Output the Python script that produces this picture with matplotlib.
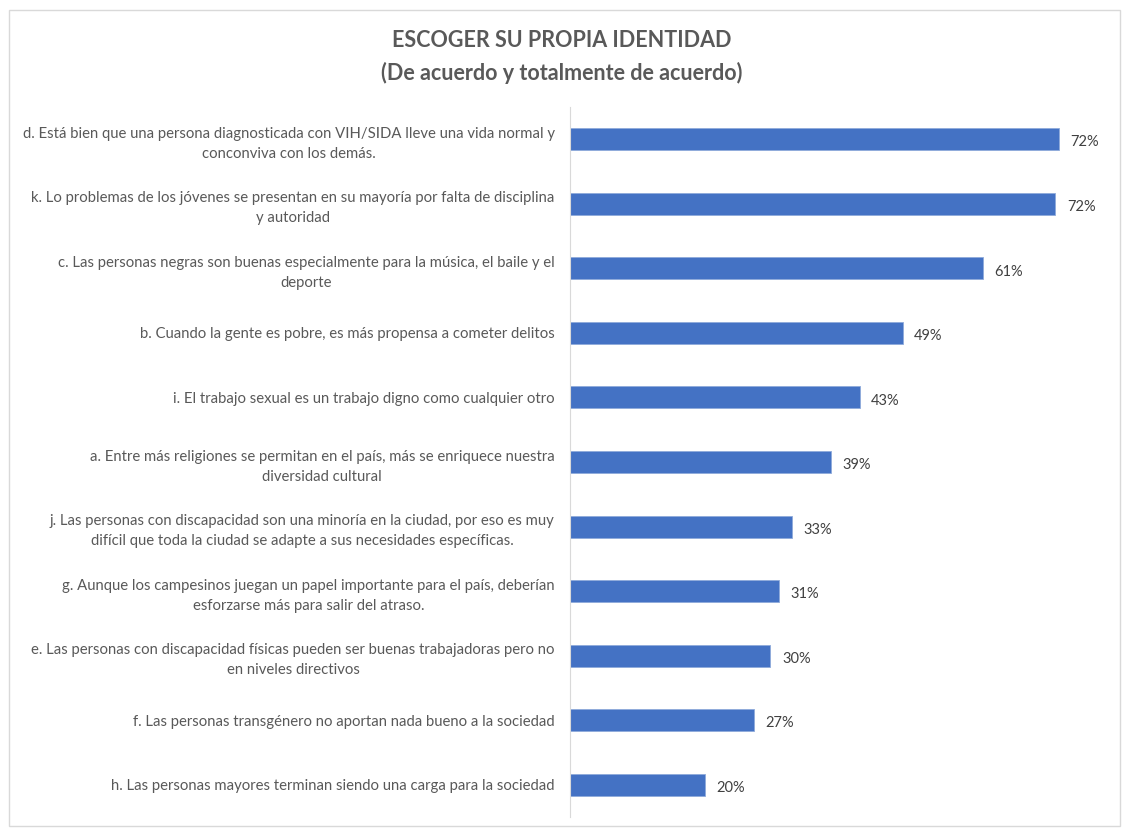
import matplotlib.pyplot as plt
from matplotlib.patches import Rectangle

labels = [
    "d. Está bien que una persona diagnosticada con VIH/SIDA lleve una vida normal y\nconconviva con los demás.",
    "k. Lo problemas de los jóvenes se presentan en su mayoría por falta de disciplina\ny autoridad",
    "c. Las personas negras son buenas especialmente para la música, el baile y el\ndeporte",
    "b. Cuando la gente es pobre, es más propensa a cometer delitos",
    "i. El trabajo sexual es un trabajo digno como cualquier otro",
    "a. Entre más religiones se permitan en el país, más se enriquece nuestra\ndiversidad cultural",
    "j. Las personas con discapacidad son una minoría en la ciudad, por eso es muy\ndifícil que toda la ciudad se adapte a sus necesidades específicas.",
    "g. Aunque los campesinos juegan un papel importante para el país, deberían\nesforzarse más para salir del atraso.",
    "e. Las personas con discapacidad físicas pueden ser buenas trabajadoras pero no\nen niveles directivos",
    "f. Las personas transgénero no aportan nada bueno a la sociedad",
    "h. Las personas mayores terminan siendo una carga para la sociedad",
]
values = [0.724, 0.719, 0.612, 0.493, 0.429, 0.386, 0.329, 0.310, 0.297, 0.273, 0.200]

plt.rcParams['font.family'] = ['Lato', 'DejaVu Sans']
grey = '#595959'

fig = plt.figure(figsize=(11.23, 8.3), dpi=100)
fig.patches.append(Rectangle((9 / 1123, 4 / 830), 1111 / 1123, 816 / 830,
                             transform=fig.transFigure, fill=False,
                             edgecolor='#d9d9d9', linewidth=1))

ax = fig.add_axes([570 / 1123, 13 / 830, 540 / 1123, 710 / 830])
pos = list(range(len(labels)))
ax.barh(pos, values, height=0.34, color='#4472c4', edgecolor='#8eaadb', linewidth=0.6)
ax.set_ylim(len(labels) - 0.5, -0.5)
ax.set_xlim(0, 0.80)

for p, v in zip(pos, values):
    ax.text(v + 0.017, p + 0.05, f"{v * 100:.0f}%", va='center', ha='left',
            fontsize=10.5, color='#404040')

ax.set_yticks(pos)
ax.set_yticklabels(labels, fontsize=10.7, color=grey, multialignment='center',
                   linespacing=1.55)
ax.tick_params(axis='y', length=0, pad=11)
ax.set_xticks([])
for side in ['top', 'right', 'bottom']:
    ax.spines[side].set_visible(False)
ax.spines['left'].set_color('#d9d9d9')

fig.text(0.5, 0.951, "ESCOGER SU PROPIA IDENTIDAD", ha='center', va='center',
         fontsize=15.5, fontweight='bold', color=grey)
fig.text(0.5, 0.912, "(De acuerdo y totalmente de acuerdo)", ha='center', va='center',
         fontsize=15.5, fontweight='bold', color=grey)

fig.savefig('out.png', dpi=100)
